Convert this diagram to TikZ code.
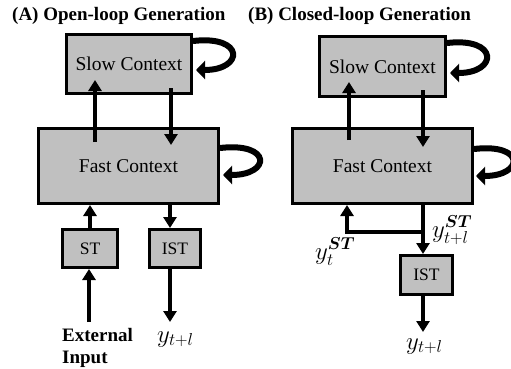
\documentclass[tikz,border=0pt]{standalone}
\usepackage{amsmath}
\usepackage{fontspec}
\setmainfont{Liberation Serif}
\usetikzlibrary{arrows.meta,calc}
\definecolor{boxgray}{RGB}{192,192,192}
\tikzset{
  ctxbox/.style={draw=black, line width=3pt, fill=boxgray, inner sep=0pt,
    font=\fontsize{19.5}{22}\selectfont},
  smallbox/.style={draw=black, line width=3pt, fill=boxgray, inner sep=0pt,
    font=\fontsize{17.5}{19}\selectfont},
  flow/.style={line width=4pt, -{Triangle[width=13pt,length=11pt]}},
  selfloop/.style={line width=6pt, -{Triangle[width=18pt,length=9pt]}},
  title/.style={font=\bfseries\fontsize{19}{21}\selectfont, anchor=base west, inner sep=0pt},
  mathlbl/.style={font=\fontsize{26}{30}\selectfont, anchor=base west, inner sep=0pt},
}
\newcommand{\stsup}{\boldsymbol{ST}}
\begin{document}
\begin{tikzpicture}[x=1pt,y=-1pt]
\useasboundingbox (0,0) rectangle (511,369);

% ---------- (A) open loop ----------
\node[title] (titleA) at (12,21) {(A) Open-loop Generation};

\node[ctxbox, minimum width=125pt, minimum height=59pt] (slowA) at (129,64) {Slow Context};
\node[ctxbox, minimum width=180pt, minimum height=75pt] (fastA) at (128.5,166) {Fast Context};
\node[smallbox, minimum width=55pt, minimum height=38pt] (stA) at (90,248.5) {ST};
\node[smallbox, minimum width=51pt, minimum height=38pt] (istA) at (175,248.5) {IST};

% slow <-> fast
\draw[flow] ([shift={(-33.5,15)}]fastA.north) -- ([shift={(-34,-15)}]slowA.south);
\draw[flow] ([shift={(42,-7)}]slowA.south) -- ([shift={(42.5,18)}]fastA.north);
% recurrent loops
\draw[selfloop] ([shift={(0,-23)}]slowA.east) .. controls +(52,-6) and +(48,0) .. ([shift={(3,6)}]slowA.east);
\draw[selfloop] ([shift={(0,-18)}]fastA.east) .. controls +(52,-6) and +(48,0) .. ([shift={(3,9)}]fastA.east);
% ST / IST
\draw[flow] (stA.north -| stA) -- (fastA.south -| stA);
\draw[flow] ([xshift=-5pt]fastA.south -| istA) -- ([xshift=-5pt]istA.north);
\coordinate (inA) at ([shift={(-1,53)}]stA.south);
\coordinate (outA) at ([shift={(-5,53)}]istA.south);
\draw[flow] (inA) -- (stA.south -| inA);
\draw[flow] ([xshift=-5pt]istA.south) -- (outA);

\node[font=\bfseries\fontsize{19}{22}\selectfont, align=left, anchor=north west, inner sep=0pt]
  (extA) at (62,328) {External\\Input};
\node[mathlbl] (yA) at (157,342) {$y_{t+l}$};

% ---------- (B) closed loop ----------
\node[title] (titleB) at (248,21) {(B) Closed-loop Generation};

\node[ctxbox, minimum width=126pt, minimum height=60pt] (slowB) at (382.5,66.5) {Slow Context};
\node[ctxbox, minimum width=180pt, minimum height=75pt] (fastB) at (382.5,166) {Fast Context};
\node[smallbox, minimum width=52pt, minimum height=39pt] (istB) at (426.5,275) {IST};

\draw[flow] ([shift={(-33.5,13)}]fastB.north) -- ([shift={(-33.5,-16)}]slowB.south);
\draw[flow] ([shift={(40.5,-8)}]slowB.south) -- ([shift={(40.5,20)}]fastB.north);
\draw[selfloop] ([shift={(0,-23.5)}]slowB.east) .. controls +(52,-6) and +(48,0) .. ([shift={(3,6.5)}]slowB.east);
\draw[selfloop] ([shift={(0,-17)}]fastB.east) .. controls +(52,-6) and +(48,0) .. ([shift={(2,10)}]fastB.east);

% feedback of the predicted ST output
\coordinate (splitB) at ([shift={(40.5,27)}]fastB.south);
\draw[flow] ([xshift=40.5pt]fastB.south) -- (istB.north -| splitB);
\draw[flow] (splitB) -| ([xshift=-35.5pt]fastB.south);
\coordinate (outB) at ([shift={(-3.5,36)}]istB.south);
\draw[flow] ([xshift=-3.5pt]istB.south) -- (outB);

\node[mathlbl] (ytB) at (315,259) {$y_t^{\stsup}$};
\node[mathlbl] (ytlSTB) at (432,237) {$y_{t+l}^{\stsup}$};
\node[mathlbl] (yB) at (406,349) {$y_{t+l}$};
\end{tikzpicture}
\end{document}
